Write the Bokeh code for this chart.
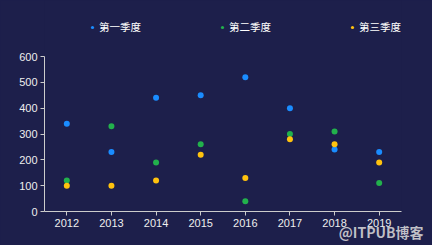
from bokeh.plotting import figure
from bokeh.models import Legend, LegendItem, Title, FixedTicker
from bokeh.embed import file_html
from bokeh.resources import INLINE

years = ["2012", "2013", "2014", "2015", "2016", "2017", "2018", "2019"]
q1 = [340, 230, 440, 450, 520, 400, 240, 230]
q2 = [120, 330, 190, 260, 40, 300, 310, 110]
q3 = [100, 100, 120, 220, 130, 280, 260, 190]
series_names = ["第一季度", "第二季度", "第三季度"]
colors = ["#1a8cff", "#22b14c", "#ffc20e"]
y_ticks = [0, 100, 200, 300, 400, 500, 600]

BG = "#1d1f4b"
# frame spans from the top of the canvas; value axis drawn only for 0..600
Y_MAX = 600
TOP_PAD_PX = 56
PLOT_H_PX = 155
p = figure(width=432, height=245, x_range=years,
           y_range=(0, Y_MAX * (PLOT_H_PX + TOP_PAD_PX) / PLOT_H_PX),
           output_backend="svg", toolbar_location=None,
           background_fill_color=BG, border_fill_color=BG,
           min_border_left=44, min_border_right=31, min_border_top=0, min_border_bottom=34)
p.styles = {"background-color": BG}
p.outline_line_color = None
p.grid.visible = False

renderers = []
for name, vals, c in zip(series_names, [q1, q2, q3], colors):
    r = p.scatter(x=years, y=vals, size=6, color=c, line_color=None)
    renderers.append((name, r))

items = [LegendItem(label=n, renderers=[r]) for n, r in renderers]
legend = Legend(items=items, orientation="horizontal", location=(44, 177),
                background_fill_alpha=0, border_line_color=None,
                padding=0, margin=0, spacing=77,
                glyph_width=8, glyph_height=12, label_height=12, label_standoff=3,
                label_text_color="#ffffff", label_text_font_size="10.5px",
                label_text_font="Noto Sans CJK SC")
p.add_layout(legend, "center")

for ax in (p.xaxis, p.yaxis):
    ax.axis_line_color = "#cccccc"
    ax.major_tick_line_color = "#cccccc"
    ax.major_tick_out = 4
    ax.major_tick_in = 0
    ax.minor_tick_line_color = None
    ax.major_label_text_color = "#eeeeee"
    ax.major_label_text_font_size = "11px"
    ax.major_label_text_font = "Liberation Sans"
p.yaxis.ticker = FixedTicker(ticks=y_ticks)
p.yaxis.bounds = (0, Y_MAX)
p.yaxis.major_label_standoff = 3
p.xaxis.major_label_standoff = 3
p.x_range.range_padding = 0

wm = Title(text="@ITPUB博客", align="right", offset=-22, standoff=-20,
           text_color="#dddddd", text_alpha=0.85, text_font_size="14px",
           text_font="Noto Sans CJK SC", text_font_style="bold")
p.add_layout(wm, "below")

open("out.html", "w").write(file_html(p, INLINE))
